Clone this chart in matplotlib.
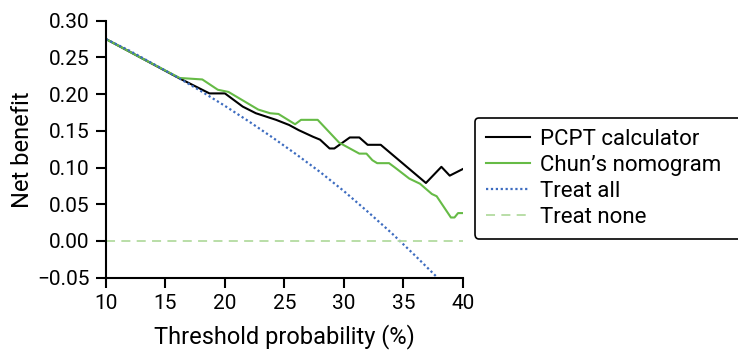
import numpy as np
import matplotlib
matplotlib.use("Agg")
from matplotlib import pyplot as plt

# values (threshold %, net benefit)
pcpt_x = [10, 13, 16, 18.7, 20, 21.5, 22.6, 24.3, 25.4, 26.2, 27.4, 28, 28.8, 29.2,
          30.5, 31.3, 32, 33.1, 36.9, 38.2, 38.9, 40]
pcpt_y = [0.275, 0.249, 0.223, 0.201, 0.201, 0.183, 0.174, 0.165, 0.158, 0.151, 0.142,
          0.138, 0.126, 0.126, 0.141, 0.141, 0.131, 0.131, 0.079, 0.101, 0.089, 0.098]

chun_x = [10, 13, 16.2, 18.1, 19.4, 20.3, 22.8, 23.8, 24.5, 25.4, 25.9, 26.4, 27.8,
          29.6, 31.3, 31.9, 32.4, 32.8, 33.8, 34.3, 35.5, 36.4, 37.4, 37.8, 39.0, 39.3,
          39.6, 40]
chun_y = [0.275, 0.249, 0.222, 0.220, 0.206, 0.203, 0.179, 0.174, 0.173, 0.164, 0.159,
          0.165, 0.165, 0.134, 0.119, 0.119, 0.110, 0.106, 0.106, 0.100, 0.085, 0.078,
          0.064, 0.061, 0.032, 0.032, 0.038, 0.038]

all_x = [10, 12, 14, 16, 18, 20, 22, 24, 26, 28, 30, 32, 34, 36, 38, 40]
all_y = [0.275, 0.259, 0.241, 0.223, 0.204, 0.184, 0.163, 0.141, 0.118, 0.094, 0.068,
         0.040, 0.011, -0.020, -0.052, -0.088]

none_x = [10, 40]
none_y = [0.0, 0.0]

x_ticks = [10, 15, 20, 25, 30, 35, 40]
y_ticks = [-0.05, 0.0, 0.05, 0.10, 0.15, 0.20, 0.25, 0.30]

plt.rcParams['font.family'] = ['Roboto', 'DejaVu Sans']

fig = plt.figure(figsize=(7.38, 3.54), dpi=100)
ax = fig.add_axes([0.1436, 0.2155, 0.4835, 0.726])

ax.plot(pcpt_x, pcpt_y, color='black', lw=1.5, label='PCPT calculator')
ax.plot(chun_x, chun_y, color='#66bb46', lw=1.5, label='Chun\u2019s nomogram')
ax.plot(all_x, all_y, color='#3d6cc0', lw=1.6, linestyle=(0, (1, 1.2)), label='Treat all')
ax.plot(none_x, none_y, color='#b3dba0', lw=1.3, linestyle=(0, (5, 3.5)), label='Treat none')

ax.set_xlim(10, 40)
ax.set_ylim(-0.05, 0.30)
ax.set_xticks(x_ticks)
ax.set_yticks(y_ticks)
ax.set_yticklabels([f"{v:.2f}".replace('-', '\u2212') for v in y_ticks])
for s in ['top', 'right']:
    ax.spines[s].set_visible(False)
for s in ['left', 'bottom']:
    ax.spines[s].set_linewidth(1.5)
ax.tick_params(direction='out', length=7, width=1.5, labelsize=15, pad=5)
ax.set_xlabel('Threshold probability (%)', fontsize=17, labelpad=8)
ax.set_ylabel('Net benefit', fontsize=17, labelpad=2)

# frame runs off the right edge of the figure, as in the original
leg = ax.legend(loc='upper left', bbox_to_anchor=(1.033, 0.0, 0.755, 0.622),
                mode='expand', borderaxespad=0,
                frameon=True, fancybox=True, edgecolor='black', fontsize=16,
                handlelength=2.0, handletextpad=0.45, labelspacing=0.22, borderpad=0.5)
leg.get_frame().set_linewidth(1.2)
leg.get_frame().set_alpha(1)

fig.savefig('out.png', dpi=100)
